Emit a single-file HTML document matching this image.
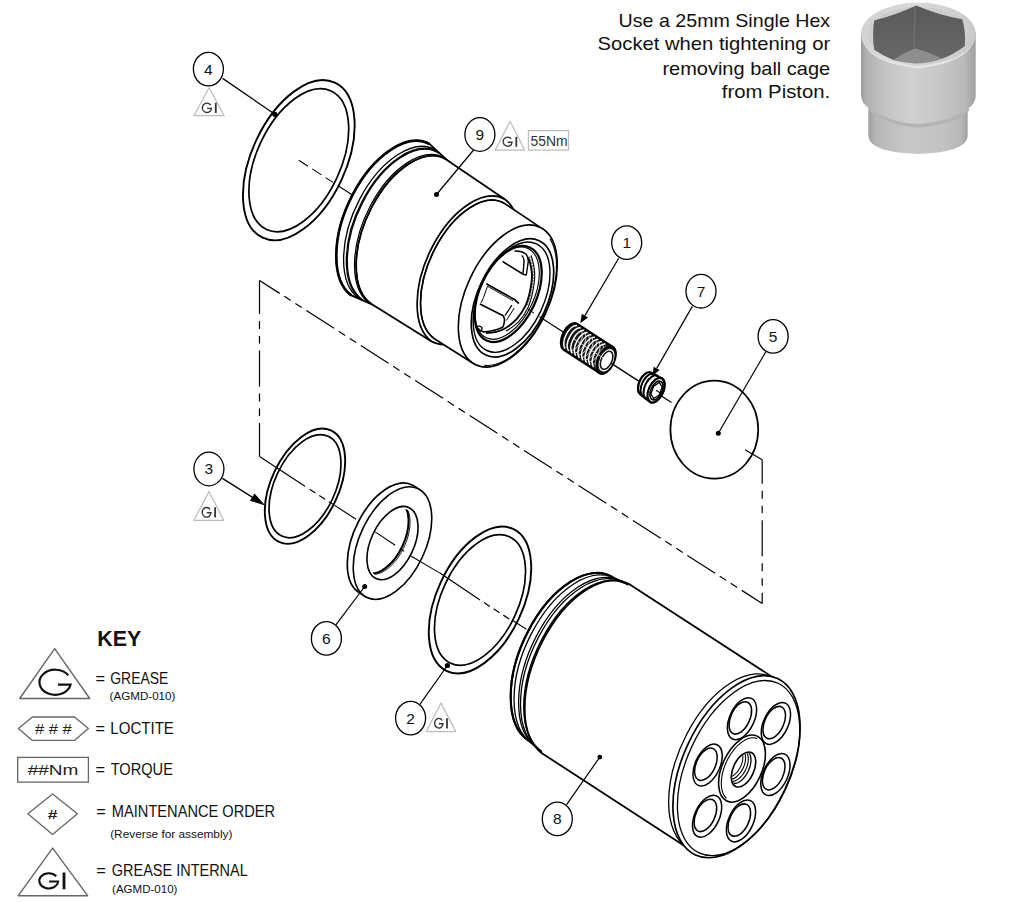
<!DOCTYPE html>
<html><head><meta charset="utf-8"><style>
html,body{margin:0;padding:0;background:#fff;}
body{width:1018px;height:902px;overflow:hidden;position:relative;}
svg{position:absolute;left:0;top:0;}
.t{font-family:"Liberation Sans",sans-serif;fill:#111;}
.bn{font-family:"Liberation Sans",sans-serif;font-size:15.5px;text-anchor:middle;fill:#111;}
.nm{font-family:"Liberation Sans",sans-serif;font-size:14.5px;fill:#333;}
</style></head><body>
<svg width="1018" height="902" viewBox="0 0 1018 902">
<rect width="1018" height="902" fill="#fff"/>
<line x1="259.5" y1="280.4" x2="259.5" y2="456.6" stroke="#000" stroke-width="1.2" stroke-dasharray="36 7 8 7 7.5 7" stroke-dashoffset="2.5"/>
<line x1="259.5" y1="280.4" x2="762.2" y2="603.5" stroke="#000" stroke-width="1.2" stroke-dasharray="33 5.5 7.6 5.5 7.6 5.5" stroke-dashoffset="9"/>
<line x1="762.2" y1="459.8" x2="762.2" y2="603.5" stroke="#000" stroke-width="1.2" stroke-dasharray="36 7 8 7 7.5 7" stroke-dashoffset="12"/>
<ellipse cx="298.8" cy="160.2" rx="47" ry="85.5" transform="rotate(24.97 298.8 160.2)" fill="none" stroke="#000" stroke-width="1.9" />
<ellipse cx="298.8" cy="160.2" rx="42" ry="76.4" transform="rotate(24.97 298.8 160.2)" fill="none" stroke="#000" stroke-width="1.7" />
<line x1="298.8" y1="160.2" x2="333" y2="182.4" stroke="#000" stroke-width="1.1" stroke-dasharray="11 5"/>
<line x1="338.5" y1="186" x2="352" y2="194.8" stroke="#000" stroke-width="1.1" />
<path d="M351.3 295.4A46.9 85.4 24.97 0 1 429.7 144.2L446.9 159.9A44.8 81.5 24.97 0 1 371.9 304.3Z" fill="#fff" stroke="#000" stroke-width="1.8" stroke-linejoin="round"/>
<path d="M371.9 304.3A44.8 81.5 24.97 0 1 446.9 159.9L504.8 199.2A44.1 80.2 24.97 0 1 431.2 341.2Z" fill="#fff" stroke="#000" stroke-width="1.8" stroke-linejoin="round"/>
<path d="M351.3 295.4A46.9 85.4 24.97 0 1 429.7 144.2" fill="none" stroke="#000" stroke-width="2.6" />
<path d="M358.8 298.4A46.1 83.8 24.97 0 1 435.8 150" fill="none" stroke="#000" stroke-width="1.3" />
<path d="M360.8 299.2A45.8 83.4 24.97 0 1 437.4 151.6" fill="none" stroke="#000" stroke-width="1.3" />
<path d="M363.3 300.3A45.5 82.8 24.97 0 1 439.5 153.5" fill="none" stroke="#000" stroke-width="1.3" />
<path d="M369 302.8A45 81.9 24.97 0 1 444.2 157.8" fill="none" stroke="#000" stroke-width="1.3" />
<path d="M371.9 304.3A44.8 81.5 24.97 0 1 446.9 159.9" fill="none" stroke="#000" stroke-width="1.3" />
<path d="M434.4 338.8A42 76.4 24.97 0 1 504.6 203.5L542.6 228.9A41.6 75.8 24.97 0 1 473 363.2Z" fill="#fff" stroke="#000" stroke-width="1.6" stroke-linejoin="round"/>
<path d="M431.2 341.2A44.1 80.2 24.97 0 1 504.8 199.2" fill="none" stroke="#000" stroke-width="1.7" />
<path d="M434.4 338.8A42 76.4 24.97 0 1 504.6 203.5" fill="none" stroke="#000" stroke-width="1.4" />
<ellipse cx="507.8" cy="296" rx="41.6" ry="75.8" transform="rotate(24.97 507.8 296)" fill="#fff" stroke="#000" stroke-width="1.6" />
<path d="M550 238.9A40.6 74 24.97 0 1 484.4 365.4" fill="none" stroke="#000" stroke-width="1.1" />
<ellipse cx="512.5" cy="297.9" rx="34.7" ry="63.1" transform="rotate(24.97 512.5 297.9)" fill="none" stroke="#000" stroke-width="1.7" />
<ellipse cx="511.6" cy="297.2" rx="32.3" ry="58.8" transform="rotate(24.97 511.6 297.2)" fill="none" stroke="#000" stroke-width="1.4" />
<ellipse cx="508.2" cy="293.9" rx="28.2" ry="51.3" transform="rotate(24.97 508.2 293.9)" fill="#fff" stroke="#000" stroke-width="2.2" />
<ellipse cx="507.2" cy="293.2" rx="27" ry="49.2" transform="rotate(24.97 507.2 293.2)" fill="none" stroke="#000" stroke-width="1.1" />
<path d="M528.2 257.5 Q533 270 531.7 280.8 Q530 295 525.9 305.2 Q522 313 516.6 319.2 Q511 325 504.9 328.5 Q497 333 486 333" fill="none" stroke="#000" stroke-width="1.9"/>
<path d="M531 255.5 Q536 270 534.3 282 Q532.5 297 528.3 307 Q524.5 315.5 518.5 321.8 Q512.5 327.5 506 331" fill="none" stroke="#000" stroke-width="1.1"/>
<path d="M529.6 256.5 Q534.5 270 533 281.5 Q531.3 296 527 306" fill="none" stroke="#000" stroke-width="0.8" stroke-dasharray="1.5 1.5"/>
<path d="M502.6 261.5 L522.4 273.8" fill="none" stroke="#000" stroke-width="1.6" stroke-linejoin="round" />
<path d="M514.3 251.1 Q521 250.5 525.9 254 Q528.6 257 528.2 262 L526.3 275 L523 274.4 L524 262 Q524 257 521.5 255.5" fill="none" stroke="#000" stroke-width="1.4" stroke-linejoin="round"/>
<path d="M486.3 283.7 L514.3 299.4 L518.9 303.5" fill="none" stroke="#000" stroke-width="1.7" stroke-linejoin="round" />
<path d="M487.5 286.2 L513.1 300.8" fill="none" stroke="#000" stroke-width="0.9" stroke-linejoin="round" />
<path d="M479.9 304 L503.2 315.7 Q505 319 504.4 321.5 Q504 325 502.6 327.3 Q495 331 484 332 Q479.5 331 477.5 328" fill="none" stroke="#000" stroke-width="1.6" stroke-linejoin="round"/>
<path d="M504.9 315.7 L511.9 305.2" fill="none" stroke="#000" stroke-width="1.2" stroke-linejoin="round" />
<path d="M506.3 320.5 L514.3 308" fill="none" stroke="#000" stroke-width="1.0" stroke-linejoin="round" />
<path d="M487.5 286.2 L483.5 297.5 L481 303" fill="none" stroke="#000" stroke-width="1.0" stroke-linejoin="round" />
<path d="M476.5 326.5 Q479.5 325.5 482 327.5 Q482.5 330.5 479.5 331.5" fill="none" stroke="#000" stroke-width="1.2"/>
<line x1="528" y1="309.2" x2="534" y2="313.1" stroke="#000" stroke-width="1.0" />
<line x1="539.5" y1="316.7" x2="571" y2="337.1" stroke="#000" stroke-width="1.2" />
<path d="M563.8 349.7A8 14.5 24.97 0 1 577.2 323.9L612.7 347A8 14.5 24.97 0 1 599.3 372.8Z" fill="#161616" stroke="#000" stroke-width="2.4" stroke-linejoin="round"/>
<path d="M565.1 348.7A7.4 13.5 24.97 0 1 577.1 325.6" fill="none" stroke="#fff" stroke-width="1.5" />
<path d="M581.5 331A6.4 11.6 24.97 0 1 571.4 350.3" fill="none" stroke="#ccc" stroke-width="1.0" />
<path d="M568.6 351.1A7.4 13.5 24.97 0 1 580.6 327.9" fill="none" stroke="#fff" stroke-width="1.5" />
<path d="M585 333.3A6.4 11.6 24.97 0 1 575 352.7" fill="none" stroke="#ccc" stroke-width="1.0" />
<path d="M572.2 353.4A7.4 13.5 24.97 0 1 584.2 330.2" fill="none" stroke="#fff" stroke-width="1.5" />
<path d="M588.6 335.6A6.4 11.6 24.97 0 1 578.5 355" fill="none" stroke="#ccc" stroke-width="1.0" />
<path d="M575.7 355.7A7.4 13.5 24.97 0 1 587.7 332.5" fill="none" stroke="#fff" stroke-width="1.5" />
<path d="M592.1 337.9A6.4 11.6 24.97 0 1 582.1 357.3" fill="none" stroke="#ccc" stroke-width="1.0" />
<path d="M579.3 358A7.4 13.5 24.97 0 1 591.3 334.9" fill="none" stroke="#fff" stroke-width="1.5" />
<path d="M595.7 340.2A6.4 11.6 24.97 0 1 585.6 359.6" fill="none" stroke="#ccc" stroke-width="1.0" />
<path d="M582.9 360.3A7.4 13.5 24.97 0 1 594.9 337.2" fill="none" stroke="#fff" stroke-width="1.5" />
<path d="M599.2 342.5A6.4 11.6 24.97 0 1 589.2 361.9" fill="none" stroke="#ccc" stroke-width="1.0" />
<path d="M586.4 362.6A7.4 13.5 24.97 0 1 598.4 339.5" fill="none" stroke="#fff" stroke-width="1.5" />
<path d="M602.8 344.9A6.4 11.6 24.97 0 1 592.8 364.2" fill="none" stroke="#ccc" stroke-width="1.0" />
<path d="M590 364.9A7.4 13.5 24.97 0 1 602 341.8" fill="none" stroke="#fff" stroke-width="1.5" />
<path d="M606.4 347.2A6.4 11.6 24.97 0 1 596.3 366.5" fill="none" stroke="#ccc" stroke-width="1.0" />
<path d="M593.5 367.2A7.4 13.5 24.97 0 1 605.5 344.1" fill="none" stroke="#fff" stroke-width="1.5" />
<path d="M609.9 349.5A6.4 11.6 24.97 0 1 599.9 368.8" fill="none" stroke="#ccc" stroke-width="1.0" />
<path d="M597.1 369.5A7.4 13.5 24.97 0 1 609.1 346.4" fill="none" stroke="#fff" stroke-width="1.5" />
<path d="M613.5 351.8A6.4 11.6 24.97 0 1 603.4 371.1" fill="none" stroke="#ccc" stroke-width="1.0" />
<ellipse cx="606" cy="359.9" rx="8" ry="14.5" transform="rotate(24.97 606 359.9)" fill="#161616" stroke="#000" stroke-width="2.4" />
<ellipse cx="606.6" cy="360.3" rx="6.2" ry="11.3" transform="rotate(24.97 606.6 360.3)" fill="#fff" stroke="#fff" stroke-width="1.2" />
<ellipse cx="606.6" cy="360.3" rx="5.3" ry="9.6" transform="rotate(24.97 606.6 360.3)" fill="none" stroke="#161616" stroke-width="1.6" />
<line x1="573" y1="338.4" x2="605" y2="359.2" stroke="#eee" stroke-width="0.9" />
<line x1="611" y1="363.1" x2="641" y2="382.6" stroke="#000" stroke-width="1.3" />
<path d="M639.8 393.9A6.6 12.1 24.97 0 1 650.8 372.5L662 378.5A7.2 13.1 24.97 0 1 650 401.8Z" fill="#fff" stroke="#000" stroke-width="2.3" stroke-linejoin="round"/>
<path d="M642.8 396.5A6.9 12.6 24.97 0 1 654.4 374.2" fill="none" stroke="#000" stroke-width="2.0" />
<path d="M646 399.1A7.2 13 24.97 0 1 658 376" fill="none" stroke="#000" stroke-width="2.0" />
<ellipse cx="656" cy="390.2" rx="7.2" ry="13.1" transform="rotate(24.97 656 390.2)" fill="#fff" stroke="#000" stroke-width="2.2" />
<ellipse cx="656.5" cy="390.5" rx="5.5" ry="10" transform="rotate(24.97 656.5 390.5)" fill="none" stroke="#000" stroke-width="1.6" />
<path d="M659.3 395 L653.7 398.5 L650.9 394 L653.7 386.1 L659.3 382.5 L662.1 387Z" fill="none" stroke="#000" stroke-width="1.3" stroke-linejoin="round" />
<line x1="656" y1="390.2" x2="662" y2="394.1" stroke="#000" stroke-width="1.1" />
<line x1="661.5" y1="396" x2="671.5" y2="402.5" stroke="#000" stroke-width="1.3" />
<ellipse cx="714.3" cy="429.6" rx="43.9" ry="49" fill="#fff" stroke="#000" stroke-width="1.7"/>
<circle cx="718.3" cy="433.2" r="2.5" fill="#000"/>
<line x1="762.2" y1="459.8" x2="745" y2="449.7" stroke="#000" stroke-width="1.2" />
<line x1="259.5" y1="456.6" x2="305" y2="486.2" stroke="#000" stroke-width="1.2" />
<line x1="309.6" y1="489.2" x2="332.8" y2="504.3" stroke="#000" stroke-width="1.2" stroke-dasharray="7 4.5"/>
<ellipse cx="305" cy="486.2" rx="33.8" ry="61.5" transform="rotate(24.97 305 486.2)" fill="none" stroke="#000" stroke-width="1.9" />
<ellipse cx="305" cy="486.2" rx="30.3" ry="55" transform="rotate(24.97 305 486.2)" fill="none" stroke="#000" stroke-width="1.7" />
<line x1="334.3" y1="505.1" x2="356" y2="519.2" stroke="#000" stroke-width="1.1" />
<path d="M357.9 591.8A33 60.1 24.97 0 1 413.1 485.4L420.1 489.9A33 60.1 24.97 0 1 364.9 596.3Z" fill="#fff" stroke="#000" stroke-width="1.7" stroke-linejoin="round"/>
<ellipse cx="392.5" cy="543.1" rx="33" ry="60.1" transform="rotate(24.97 392.5 543.1)" fill="#fff" stroke="#000" stroke-width="1.6" />
<clipPath id="wh"><path d="M410.6 554.9A21.5 39.1 24.97 0 1 374.4 531.3A21.5 39.1 24.97 0 1 410.6 554.9Z"/></clipPath>
<ellipse cx="392.5" cy="543.1" rx="21.5" ry="39.1" transform="rotate(24.97 392.5 543.1)" fill="#fff" stroke="#000" stroke-width="1.6" />
<g clip-path="url(#wh)"><ellipse cx="383" cy="536.9" rx="21.5" ry="39.1" transform="rotate(24.97 383 536.9)" fill="none" stroke="#000" stroke-width="2.0" /><ellipse cx="384.8" cy="538.1" rx="21.3" ry="38.8" transform="rotate(24.97 384.8 538.1)" fill="none" stroke="#000" stroke-width="0.8" /></g>
<line x1="375.2" y1="531.9" x2="395.2" y2="545.2" stroke="#000" stroke-width="1.1" />
<line x1="410.5" y1="555.8" x2="440" y2="573.1" stroke="#000" stroke-width="1.1" />
<line x1="400" y1="548.5" x2="404" y2="551.2" stroke="#000" stroke-width="1.1" />
<line x1="440" y1="573.1" x2="480" y2="600" stroke="#000" stroke-width="1.2" />
<line x1="484" y1="602.6" x2="510.5" y2="619.8" stroke="#000" stroke-width="1.2" stroke-dasharray="7 4.5"/>
<ellipse cx="480" cy="600" rx="43.1" ry="78.4" transform="rotate(24.97 480 600)" fill="none" stroke="#000" stroke-width="1.9" />
<ellipse cx="480" cy="600" rx="38.3" ry="69.7" transform="rotate(24.97 480 600)" fill="none" stroke="#000" stroke-width="1.7" />
<line x1="512.3" y1="620.3" x2="526.5" y2="629.2" stroke="#000" stroke-width="1.1" />
<path d="M528.5 740.5A50.6 92 24.97 0 1 613.1 577.5L629.5 585.1A52 94.6 24.97 0 1 542.5 752.7Z" fill="#fff" stroke="#000" stroke-width="1.8" stroke-linejoin="round"/>
<path d="M542.2 753.4A52.5 95.4 24.97 0 1 629.8 584.4L776.8 679.9A52.5 95.4 24.97 0 1 689.2 849Z" fill="#fff" stroke="#000" stroke-width="1.8" stroke-linejoin="round"/>
<path d="M528.5 740.5A50.6 92 24.97 0 1 613.1 577.5" fill="none" stroke="#000" stroke-width="2.2" />
<path d="M531.9 743.2A50.8 92.4 24.97 0 1 616.9 579.5" fill="none" stroke="#000" stroke-width="1.3" />
<path d="M535.3 746A51.1 93 24.97 0 1 620.7 581.3" fill="none" stroke="#000" stroke-width="1.3" />
<path d="M538.6 748.9A51.4 93.5 24.97 0 1 624.6 583.2" fill="none" stroke="#000" stroke-width="1.3" />
<path d="M542 751.7A51.7 94 24.97 0 1 628.4 585.1" fill="none" stroke="#000" stroke-width="1.5" />
<path d="M687.2 847.7A52.5 95.4 24.97 0 1 774.8 678.6" fill="none" stroke="#000" stroke-width="1.3" />
<ellipse cx="736.5" cy="766.7" rx="53.5" ry="97.3" transform="rotate(24.97 736.5 766.7)" fill="#fff" stroke="#000" stroke-width="1.7" />
<ellipse cx="738.6" cy="768.1" rx="51.5" ry="93.6" transform="rotate(24.97 738.6 768.1)" fill="none" stroke="#000" stroke-width="1.3" />
<ellipse cx="775.4" cy="774.5" rx="12.3" ry="22.4" transform="rotate(24.97 775.4 774.5)" fill="#fff" stroke="#000" stroke-width="1.5" /><ellipse cx="773.7" cy="773.7" rx="9.5" ry="17.3" transform="rotate(24.97 773.7 773.7)" fill="none" stroke="#000" stroke-width="1.5" />
<ellipse cx="741" cy="820.9" rx="12.3" ry="22.4" transform="rotate(24.97 741 820.9)" fill="#fff" stroke="#000" stroke-width="1.5" /><ellipse cx="739.3" cy="820.1" rx="9.5" ry="17.3" transform="rotate(24.97 739.3 820.1)" fill="none" stroke="#000" stroke-width="1.5" />
<ellipse cx="707.1" cy="816.2" rx="12.3" ry="22.4" transform="rotate(24.97 707.1 816.2)" fill="#fff" stroke="#000" stroke-width="1.5" /><ellipse cx="705.4" cy="815.4" rx="9.5" ry="17.3" transform="rotate(24.97 705.4 815.4)" fill="none" stroke="#000" stroke-width="1.5" />
<ellipse cx="707.6" cy="765.1" rx="12.3" ry="22.4" transform="rotate(24.97 707.6 765.1)" fill="#fff" stroke="#000" stroke-width="1.5" /><ellipse cx="705.9" cy="764.3" rx="9.5" ry="17.3" transform="rotate(24.97 705.9 764.3)" fill="none" stroke="#000" stroke-width="1.5" />
<ellipse cx="742" cy="718.7" rx="12.3" ry="22.4" transform="rotate(24.97 742 718.7)" fill="#fff" stroke="#000" stroke-width="1.5" /><ellipse cx="740.3" cy="717.9" rx="9.5" ry="17.3" transform="rotate(24.97 740.3 717.9)" fill="none" stroke="#000" stroke-width="1.5" />
<ellipse cx="775.9" cy="723.4" rx="12.3" ry="22.4" transform="rotate(24.97 775.9 723.4)" fill="#fff" stroke="#000" stroke-width="1.5" /><ellipse cx="774.2" cy="722.6" rx="9.5" ry="17.3" transform="rotate(24.97 774.2 722.6)" fill="none" stroke="#000" stroke-width="1.5" />
<ellipse cx="742" cy="768.6" rx="19.7" ry="35.8" transform="rotate(24.97 742 768.6)" fill="#fff" stroke="#000" stroke-width="1.6" />
<path d="M726.4 798.3A18.6 33.8 24.97 0 1 757.3 738.7" fill="none" stroke="#000" stroke-width="1.1" />
<clipPath id="bh"><path d="M752.2 775.1A10.3 18.7 24.97 0 1 734.8 763.9A10.3 18.7 24.97 0 1 752.2 775.1Z"/></clipPath>
<ellipse cx="743.5" cy="769.5" rx="10.3" ry="18.7" transform="rotate(24.97 743.5 769.5)" fill="#fff" stroke="#000" stroke-width="1.6" />
<g clip-path="url(#bh)"><ellipse cx="739.5" cy="767" rx="9.7" ry="17.6" transform="rotate(24.97 739.5 767)" fill="none" stroke="#000" stroke-width="1.3" /><ellipse cx="737.5" cy="765.8" rx="9.1" ry="16.6" transform="rotate(24.97 737.5 765.8)" fill="none" stroke="#000" stroke-width="1.1" /><ellipse cx="735.5" cy="764.5" rx="8.5" ry="15.5" transform="rotate(24.97 735.5 764.5)" fill="none" stroke="#000" stroke-width="1.1" /><ellipse cx="733.5" cy="763.2" rx="7.9" ry="14.4" transform="rotate(24.97 733.5 763.2)" fill="none" stroke="#000" stroke-width="1.0" /></g>
<line x1="222.6" y1="78.4" x2="274.9" y2="114.3" stroke="#000" stroke-width="1.3" />
<circle cx="274.9" cy="114.3" r="2.6" fill="#000"/>
<ellipse cx="208.4" cy="69.1" rx="15" ry="16.8" fill="#fff" stroke="#000" stroke-width="1.3"/><text x="208.4" y="74.5" class="bn">4</text>
<path d="M209 87.7 L224.2 115.7 L194 115.7 Z" fill="none" stroke="#bbb" stroke-width="1.2" stroke-linejoin="round"/><path d="M210.6 105A4.6 4.7 0 1 0 211.5 108.3L207.2 108.3" fill="none" stroke="#333" stroke-width="1.35"/><line x1="215.8" y1="102.8" x2="215.8" y2="113" stroke="#333" stroke-width="1.7550000000000001"/>
<line x1="474" y1="149.5" x2="436.5" y2="194.5" stroke="#000" stroke-width="1.2" />
<circle cx="436.5" cy="194.5" r="2.5" fill="#000"/>
<ellipse cx="479.9" cy="134.5" rx="15" ry="16.8" fill="#fff" stroke="#000" stroke-width="1.3"/><text x="479.9" y="139.9" class="bn">9</text>
<path d="M510.1 121.2 L524.6 150.1 L495.1 150.1 Z" fill="none" stroke="#bbb" stroke-width="1.2" stroke-linejoin="round"/><path d="M511.2 138.9A4.5 4.6 0 1 0 512.1 142.2L507.8 142.2" fill="none" stroke="#333" stroke-width="1.35"/><line x1="516.3" y1="136.8" x2="516.3" y2="146.8" stroke="#333" stroke-width="1.7550000000000001"/>
<rect x="528.4" y="130.6" width="40.1" height="19.5" fill="none" stroke="#bbb" stroke-width="1.2"/>
<text x="530.5" y="146" class="nm" textLength="37" lengthAdjust="spacingAndGlyphs">55Nm</text>
<line x1="618.7" y1="258.3" x2="584.9" y2="315.6" stroke="#000" stroke-width="1.2" /><path d="M580.3 323.3L581.8 313.7L588 317.4Z" fill="#000"/>
<ellipse cx="626.7" cy="242.6" rx="15" ry="16.8" fill="#fff" stroke="#000" stroke-width="1.3"/><text x="626.7" y="248" class="bn">1</text>
<line x1="692.3" y1="306.4" x2="656.7" y2="368.4" stroke="#000" stroke-width="1.2" /><path d="M652.2 376.2L653.7 366.7L659.6 370.1Z" fill="#000"/>
<ellipse cx="701" cy="291.2" rx="15" ry="16.8" fill="#fff" stroke="#000" stroke-width="1.3"/><text x="701" y="296.6" class="bn">7</text>
<line x1="766" y1="351.5" x2="718.3" y2="433.2" stroke="#000" stroke-width="1.2" />
<ellipse cx="773.1" cy="336.4" rx="15" ry="16.8" fill="#fff" stroke="#000" stroke-width="1.3"/><text x="773.1" y="341.8" class="bn">5</text>
<line x1="222.4" y1="478.4" x2="252.2" y2="497.1" stroke="#000" stroke-width="1.3" /><path d="M265.3 505.4L249.9 500.8L254.5 493.5Z" fill="#000"/>
<ellipse cx="208.9" cy="469" rx="15" ry="16.8" fill="#fff" stroke="#000" stroke-width="1.3"/><text x="208.9" y="474.4" class="bn">3</text>
<path d="M209 491.4 L223.7 520.3 L194 520.3 Z" fill="none" stroke="#bbb" stroke-width="1.2" stroke-linejoin="round"/><path d="M210.1 509.4A4.4 4.8 0 1 0 211 512.7L206.8 512.7" fill="none" stroke="#333" stroke-width="1.35"/><line x1="215.1" y1="507.2" x2="215.1" y2="517.5" stroke="#333" stroke-width="1.7550000000000001"/>
<line x1="335.9" y1="624.9" x2="364.7" y2="586.5" stroke="#000" stroke-width="1.2" />
<circle cx="364.7" cy="586.5" r="2.5" fill="#000"/>
<ellipse cx="326.4" cy="638.4" rx="15" ry="16.8" fill="#fff" stroke="#000" stroke-width="1.3"/><text x="326.4" y="643.8" class="bn">6</text>
<line x1="419.9" y1="704.4" x2="447.4" y2="665.5" stroke="#000" stroke-width="1.2" />
<circle cx="447.4" cy="665.5" r="2.6" fill="#000"/>
<ellipse cx="410.6" cy="718.1" rx="15" ry="16.8" fill="#fff" stroke="#000" stroke-width="1.3"/><text x="410.6" y="723.5" class="bn">2</text>
<path d="M440.9 702.9 L455.8 731.6 L426.4 731.6 Z" fill="none" stroke="#bbb" stroke-width="1.2" stroke-linejoin="round"/><path d="M442.2 720.4A4.2 4.8 0 1 0 443 723.7L439 723.7" fill="none" stroke="#333" stroke-width="1.35"/><line x1="447" y1="718.2" x2="447" y2="728.5" stroke="#333" stroke-width="1.7550000000000001"/>
<line x1="566.6" y1="804.6" x2="599.8" y2="757.1" stroke="#000" stroke-width="1.2" />
<circle cx="599.8" cy="757.1" r="2.4" fill="#000"/>
<ellipse cx="557.3" cy="818.9" rx="15" ry="16.8" fill="#fff" stroke="#000" stroke-width="1.3"/><text x="557.3" y="824.3" class="bn">8</text>
<g id="socket">
<defs>
<linearGradient id="sg1" x1="860" x2="976" y1="0" y2="0" gradientUnits="userSpaceOnUse">
<stop offset="0" stop-color="#9a9a9a"/><stop offset="0.06" stop-color="#b2b2b2"/><stop offset="0.25" stop-color="#c6c6c6"/><stop offset="0.45" stop-color="#d0d0d0"/><stop offset="0.7" stop-color="#c6c6c6"/><stop offset="0.9" stop-color="#bababa"/><stop offset="1" stop-color="#9e9e9e"/>
</linearGradient>
<linearGradient id="sg2" x1="868" x2="968" y1="0" y2="0" gradientUnits="userSpaceOnUse">
<stop offset="0" stop-color="#9e9e9e"/><stop offset="0.08" stop-color="#b6b6b6"/><stop offset="0.4" stop-color="#c8c8c8"/><stop offset="0.75" stop-color="#c2c2c2"/><stop offset="0.93" stop-color="#b6b6b6"/><stop offset="1" stop-color="#a0a0a0"/>
</linearGradient>
<linearGradient id="sg3" x1="0" x2="0" y1="5" y2="60" gradientUnits="userSpaceOnUse">
<stop offset="0" stop-color="#5a5a5a"/><stop offset="1" stop-color="#676767"/>
</linearGradient>
<linearGradient id="sg4" x1="860" x2="976" y1="0" y2="60" gradientUnits="userSpaceOnUse">
<stop offset="0" stop-color="#cfcfcf"/><stop offset="0.4" stop-color="#dadada"/><stop offset="1" stop-color="#c6c6c6"/>
</linearGradient>
</defs>
<path d="M868.3 104 L868.3 136 Q869 152 918 154 Q967 152 967.7 136 L967.7 104 Z" fill="url(#sg2)"/>
<path d="M861 32 L861 96 Q862 104 869 108 Q890 123 918.5 124 Q950 122 969 108 Q975.5 103 975.7 96 L975.7 32 Z" fill="url(#sg1)"/>
<path d="M869 108 Q890 123 918.5 124 Q950 122 969 108 L969 111 Q950 126 918.5 127.5 Q889 126 869 111 Z" fill="#b4b4b4"/>
<ellipse cx="918.4" cy="34" rx="57.4" ry="31.5" fill="url(#sg4)"/>
<path d="M862 34 Q862 60 918 66 Q974 60 975 34 Q974 62 918 68.5 Q862 62 862 34 Z" fill="#e4e4e4"/>
<ellipse cx="918.4" cy="34" rx="51" ry="27" fill="#cdcdcd"/>
<path d="M874.2 20.4 Q896 15 916.3 5.5 Q938 15 962.3 19.2 Q966 32 964.8 46 Q953 55 941.8 58.7 Q928 63 915 63 Q903 62 893.3 60 Q883 56 874.2 49.8 Q872 35 874.2 20.4 Z" fill="url(#sg3)"/>
<path d="M893.3 60 Q905 52 915 48.5 Q929 52 941.8 58.7 Q928 63.5 915 63.5 Q903 62.5 893.3 60 Z" fill="#8e8e8e"/>
<path d="M915 7 L914 48" stroke="#6e6e6e" stroke-width="1.5"/>
</g>

<g class="t" font-size="19">
<text x="618.6" y="27" textLength="211.6" lengthAdjust="spacingAndGlyphs">Use a 25mm Single Hex</text>
<text x="597.6" y="50.3" textLength="232.6" lengthAdjust="spacingAndGlyphs">Socket when tightening or</text>
<text x="662.4" y="74.9" textLength="167.8" lengthAdjust="spacingAndGlyphs">removing ball cage</text>
<text x="721.8" y="98.2" textLength="108.4" lengthAdjust="spacingAndGlyphs">from Piston.</text>
</g>

<g class="t">
<text x="97.2" y="646.1" font-size="22" font-weight="bold" textLength="44" lengthAdjust="spacingAndGlyphs">KEY</text>
<!-- grease -->
<path d="M54.7 648.6 L89.7 698.5 L19.7 698.5 Z" fill="none" stroke="#666" stroke-width="1.4" stroke-linejoin="round"/>
<path d="M68.3 675.4 A15.7 12.55 0 1 0 70.6 684.6 L58 684.6" fill="none" stroke="#111" stroke-width="2.2"/>
<g font-size="16.3">
<text x="95.4" y="684">=</text>
<text x="110.3" y="684" textLength="58" lengthAdjust="spacingAndGlyphs">GREASE</text>
<text x="95.4" y="733.8">=</text>
<text x="110.3" y="733.8" textLength="63.6" lengthAdjust="spacingAndGlyphs">LOCTITE</text>
<text x="95.4" y="775.3">=</text>
<text x="110.7" y="775.3" textLength="62.2" lengthAdjust="spacingAndGlyphs">TORQUE</text>
<text x="96.2" y="817.1">=</text>
<text x="111.8" y="817.1" textLength="163.4" lengthAdjust="spacingAndGlyphs">MAINTENANCE ORDER</text>
<text x="96.2" y="875.6">=</text>
<text x="111.8" y="875.6" textLength="136" lengthAdjust="spacingAndGlyphs">GREASE INTERNAL</text>
</g>
<g font-size="11.6">
<text x="109.6" y="700" textLength="65.8" lengthAdjust="spacingAndGlyphs">(AGMD-010)</text>
<text x="110.2" y="837.6" textLength="122.2" lengthAdjust="spacingAndGlyphs">(Reverse for assembly)</text>
<text x="112.1" y="892.6" textLength="65.3" lengthAdjust="spacingAndGlyphs">(AGMD-010)</text>
</g>
<!-- loctite hex -->
<path d="M18.4 728.6 L32.4 717 L74.4 717 L88.4 728.6 L74.4 740.4 L32.4 740.4 Z" fill="none" stroke="#666" stroke-width="1.3" stroke-linejoin="round"/>
<text x="35" y="733.8" font-size="14" fill="#222" textLength="36.8" lengthAdjust="spacingAndGlyphs">#&#160;#&#160;#</text>
<!-- torque -->
<rect x="17.7" y="757.4" width="70.7" height="24.7" fill="none" stroke="#666" stroke-width="1.3"/>
<text x="27.7" y="774.7" font-size="14" fill="#222" textLength="50.8" lengthAdjust="spacingAndGlyphs">##Nm</text>
<!-- diamond -->
<path d="M27.9 813.8 L52.6 794 L77.4 813.8 L52.6 834.4 Z" fill="none" stroke="#666" stroke-width="1.3" stroke-linejoin="round"/>
<text x="47.8" y="819.3" font-size="13" font-weight="bold" fill="#222" textLength="9.7" lengthAdjust="spacingAndGlyphs">#</text>
<!-- GI -->
<path d="M52.6 848.1 L87.6 895.7 L18.3 895.7 Z" fill="none" stroke="#666" stroke-width="1.4" stroke-linejoin="round"/>
<path d="M56.2 876.2A9.4 7.6 0 1 0 58.1 881.5L49.1 881.5" fill="none" stroke="#111" stroke-width="2.1"/><line x1="64" y1="872.5" x2="64" y2="889.3" stroke="#111" stroke-width="2.8"/>
</g>

</svg>
</body></html>
